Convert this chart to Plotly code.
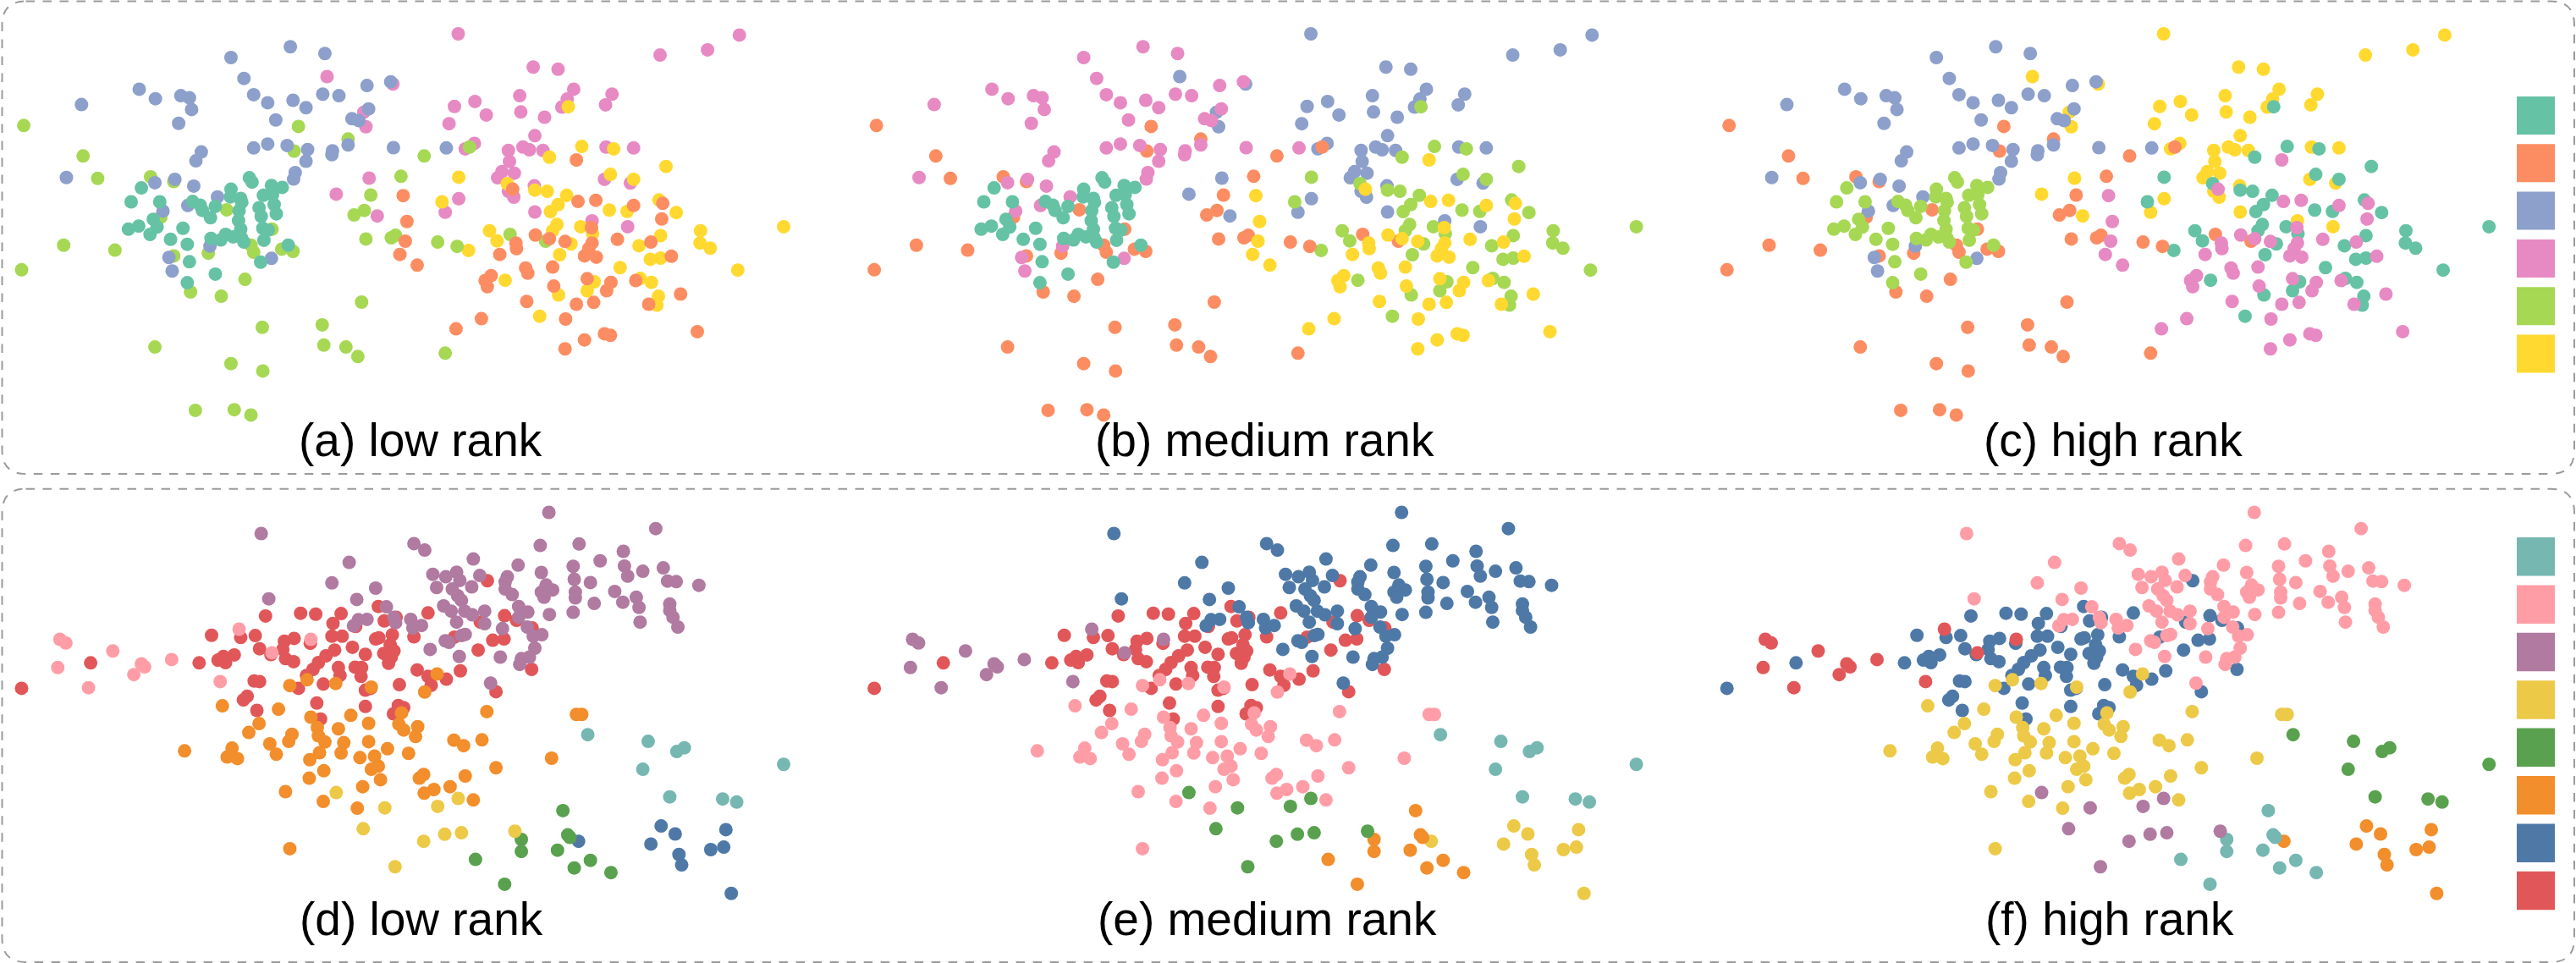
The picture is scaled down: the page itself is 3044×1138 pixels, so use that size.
import plotly.graph_objects as go

W, H = 3044, 1138

# ---- Data, top row (embedding coordinates) ----
top_teal = [(462,578),(467,592),(503,603),(523,609),(262,611),(428,615),(427,640),(488,635),(505,633),(446,645),(243,656),(296,656),(357,655),(371,667),(399,671),(448,658),(375,684),(443,685),(480,675),(508,665),(512,695),(484,703),(390,708),(442,717),(284,713),(291,738),(257,735),(238,745),(278,762),(339,742),(487,742),(497,748),(446,745),(447,772),(418,762),(432,770),(409,780),(391,775),(316,778),(347,794),(452,787),(489,781),(534,797),(351,851),(483,852),(399,891),(347,919)]
top_blue = [(538,152),(602,174),(428,187),(452,255),(258,290),(288,321),(335,311),(351,318),(355,356),(331,401),(151,340),(470,308),(496,334),(543,326),(567,350),(598,306),(628,311),(680,278),(724,266),(683,354),(652,386),(665,392),(511,390),(470,481),(496,468),(532,473),(570,486),(616,490),(615,503),(645,471),(729,480),(827,481),(373,494),(363,523),(567,524),(547,561),(544,582),(123,577),(287,594),(324,583),(359,605),(403,640),(348,668),(302,686),(389,800),(313,837),(319,881),(503,840)]
top_pink = [(849,110),(1370,114),(1311,162),(1223,179),(988,218),(1034,225),(606,249),(728,273),(1063,290),(1134,306),(963,311),(1051,322),(842,346),(880,330),(1122,341),(1041,348),(901,374),(965,364),(1009,381),(674,365),(678,412),(832,402),(991,441),(879,466),(862,484),(969,478),(981,487),(942,489),(1006,489),(1123,478),(1174,481),(944,525),(930,558),(953,563),(922,578),(1120,583),(1168,595),(684,579),(990,604),(623,631),(942,622),(952,641),(850,646),(991,689),(825,690),(699,702),(1097,718),(1163,737)]
top_green = [(44,408),(553,411),(645,452),(545,491),(154,507),(181,580),(279,575),(322,590),(743,573),(687,634),(675,684),(656,699),(420,682),(298,706),(504,745),(733,765),(725,773),(678,777),(118,797),(213,813),(811,787),(847,801),(945,762),(1011,784),(786,507),(870,478),(465,797),(470,820),(386,823),(322,832),(522,810),(543,817),(40,877),(454,908),(353,949),(410,963),(670,982),(597,1056),(486,1064),(600,1122),(641,1128),(663,1159),(287,1128),(825,1148),(428,1182),(487,1206),(362,1334),(434,1332),(465,1349)]
top_yellow = [(1053,347),(1078,476),(1137,484),(1018,511),(1234,541),(1131,567),(1174,583),(850,576),(940,597),(991,618),(1014,622),(1050,635),(819,656),(1221,650),(1034,665),(1020,688),(1129,683),(1162,687),(1253,691),(1032,730),(1076,737),(1024,750),(1098,760),(1298,750),(1224,766),(1452,737),(907,750),(921,783),(1297,790),(1316,807),(1058,793),(1184,799),(868,814),(1037,828),(1205,843),(1224,839),(1149,870),(1367,878),(1186,905),(1207,918),(936,911),(1101,916),(1088,945),(1035,959),(1220,963),(1217,992),(1000,1028)]
top_orange = [(1068,520),(950,615),(747,636),(1104,651),(1071,655),(1174,668),(1228,661),(1226,712),(754,720),(1096,740),(992,764),(1018,776),(1047,785),(956,790),(1097,790),(1144,778),(1206,787),(751,784),(957,808),(1091,808),(926,827),(741,827),(1083,832),(1105,836),(1244,833),(773,862),(974,871),(1024,868),(978,888),(910,896),(899,912),(903,932),(1088,906),(1026,930),(1132,918),(1178,912),(1124,945),(1261,956),(976,980),(1068,989),(1100,983),(1202,989),(892,1036),(845,1069),(1048,1037),(1120,1085),(1131,1090),(1292,1078),(1083,1105),(1047,1134)]

# ---- Data, bottom row ----
bot_teal = [(1089,823),(1201,845),(1268,866),(1254,878),(1191,936),(1452,920),(1241,1026),(1339,1033),(1365,1043)]
bot_red = [(40,672),(168,589),(369,589),(392,499),(404,580),(414,568),(418,588),(434,563),(446,506),(473,500),(481,543),(492,436),(502,562),(527,518),(545,509),(524,545),(529,575),(544,585),(557,427),(585,430),(632,428),(617,460),(615,502),(634,502),(575,525),(653,538),(620,547),(604,566),(590,588),(580,610),(568,630),(553,672),(599,658),(471,648),(481,650),(458,698),(451,710),(476,744),(587,720),(594,772),(627,604),(630,630),(658,603),(670,604),(669,633),(677,561),(677,678),(687,672),(696,511),(702,507),(727,497),(723,530),(711,558),(730,550),(725,570),(720,590),(712,452),(701,405),(734,440),(659,470),(793,426),(773,612),(793,633),(799,662),(827,642),(853,615),(740,660),(677,731),(738,728),(748,735),(729,755),(767,504),(886,547),(903,321),(890,456),(913,515),(934,511),(935,435),(957,450),(986,475),(985,610),(919,683),(842,505)]
bot_purple = [(1017,98),(1215,151),(484,167),(767,200),(787,221),(1001,206),(1073,201),(1155,225),(647,261),(877,250),(1112,256),(960,270),(1062,274),(1157,273),(1229,279),(1191,290),(1003,294),(802,300),(826,308),(846,293),(852,320),(889,304),(940,308),(1064,316),(1163,306),(615,328),(696,345),(809,343),(838,348),(874,341),(936,325),(936,348),(1094,327),(1237,322),(1253,324),(1295,336),(1012,335),(1024,351),(1003,358),(1008,375),(949,366),(1066,358),(1066,377),(1139,356),(1179,375),(498,380),(661,382),(848,370),(855,385),(1154,391),(1101,395),(1241,397),(1184,408),(716,406),(822,403),(961,405),(836,420),(861,420),(875,432),(898,420),(978,423),(961,440),(1018,431),(1062,424),(1241,418),(1247,440),(680,447),(730,440),(733,458),(664,448),(655,468),(761,447),(765,475),(781,467),(846,456),(898,461),(931,477),(977,472),(1186,456),(1256,472),(1004,497),(988,502),(862,496),(855,500),(832,522),(825,517),(797,545),(851,568),(927,570),(991,541),(981,570),(966,575),(963,594),(909,655)]
bot_pink = [(111,512),(122,524),(209,550),(107,604),(262,592),(268,602),(318,578),(248,627),(164,670),(408,650),(443,479),(576,512),(504,556)]
bot_orange = [(810,625),(569,644),(622,656),(537,663),(688,668),(787,684),(412,729),(516,740),(902,748),(1068,757),(1078,757),(744,752),(650,760),(576,766),(683,786),(480,787),(739,789),(627,804),(461,816),(588,800),(774,797),(748,808),(590,827),(541,822),(770,829),(535,845),(602,847),(637,849),(683,846),(841,841),(893,840),(500,853),(859,859),(430,867),(718,869),(592,882),(632,883),(757,884),(342,876),(512,887),(421,896),(440,901),(694,893),(667,898),(574,905),(1022,900),(701,926),(688,936),(600,941),(919,931),(573,965),(785,953),(777,965),(862,958),(705,970),(672,993),(834,993),(804,1002),(786,1014),(529,1009),(877,1036),(599,1041),(662,1063),(537,1195)]
bot_blue = [(1225,1121),(1251,1147),(1345,1133),(1072,1171),(1206,1180),(1341,1190),(1317,1198),(1258,1214),(1263,1248),(1355,1341)]
bot_green = [(1043,1071),(966,1165),(1052,1150),(1056,1158),(966,1204),(1033,1200),(881,1230),(1094,1233),(1064,1258),(1132,1273),(935,1311)]
bot_yellow = [(623,1012),(849,1031),(811,1057),(713,1062),(673,1130),(824,1148),(855,1143),(954,1138),(785,1171),(732,1254)]

# Palettes and legends
set2 = {"teal":"#66c2a5","orange":"#fc8d62","blue":"#8da0cb","pink":"#e78ac3","green":"#a6d854","yellow":"#ffd92f"}
tab = {"teal":"#76b7b2","pink":"#ff9da7","purple":"#b07aa1","yellow":"#edc948","green":"#59a14f","orange":"#f28e2b","blue":"#4e79a7","red":"#e15759"}
top_legend = ["teal","orange","blue","pink","green","yellow"]
bot_legend = ["teal","pink","purple","yellow","green","orange","blue","red"]

# Cluster -> colour per panel, in drawing order
top_clusters = [
    (top_pink,   ["pink","blue","yellow"]),
    (top_yellow, ["yellow","green","teal"]),
    (top_green,  ["green","orange","orange"]),
    (top_orange, ["orange","yellow","pink"]),
    (top_blue,   ["blue","pink","blue"]),
    (top_teal,   ["teal","teal","green"]),
]
bot_clusters = [
    (bot_teal,   ["teal","teal","green"]),
    (bot_red,    ["red","red","blue"]),
    (bot_purple, ["purple","blue","pink"]),
    (bot_pink,   ["pink","purple","red"]),
    (bot_orange, ["orange","pink","yellow"]),
    (bot_blue,   ["blue","yellow","orange"]),
    (bot_green,  ["green","orange","teal"]),
    (bot_yellow, ["yellow","green","purple"]),
]
top_titles = ["(a) low rank","(b) medium rank","(c) high rank"]
bot_titles = ["(d) low rank","(e) medium rank","(f) high rank"]
top_title_x = [496.5,1494.5,2496.5]
bot_title_x = [498,1497,2492.6]

STEP = 1007.6
fig = go.Figure()
layout = {}
annotations, shapes = [], []

def add_row(row, clusters, palette, y_span, titles, title_x, title_y):
    for k in range(3):
        idx = row*3 + k + 1
        name = "" if idx == 1 else str(idx)
        layout[f"xaxis{name}"] = dict(domain=[k*STEP/W, (k*STEP+1000)/W], range=[0,1568], visible=False, fixedrange=True)
        layout[f"yaxis{name}"] = dict(domain=[1-y_span[1]/H, 1-y_span[0]/H], range=[1568,0], visible=False, fixedrange=True)
        for pts, cols in clusters:
            fig.add_trace(go.Scatter(
                x=[p[0] for p in pts], y=[p[1] for p in pts], mode="markers",
                xaxis=f"x{name}", yaxis=f"y{name}", showlegend=False, hoverinfo="skip", cliponaxis=False,
                marker=dict(size=16, color=palette[cols[k]], line=dict(width=0))))
        annotations.append(dict(text=titles[k], x=title_x[k]/W, y=1-title_y/H, xref="paper", yref="paper",
                                xanchor="center", yanchor="middle", showarrow=False,
                                font=dict(family="Liberation Sans", size=55, color="#000")))

add_row(0, top_clusters, set2, (0,570), top_titles, top_title_x, 520)
add_row(1, bot_clusters, tab, (570,1138), bot_titles, bot_title_x, 1086)

def frame(x0, y0, x1, y1, r=28):
    pts = [("M",x0+r,y0),("L",x1-r,y0),("Q",x1,y0,x1,y0+r),("L",x1,y1-r),("Q",x1,y1,x1-r,y1),("L",x0+r,y1),("Q",x0,y1,x0,y1-r),("L",x0,y0+r),("Q",x0,y0,x0+r,y0)]
    s = ""
    for p in pts:
        s += p[0] + " " + " ".join(f"{v:.6f}" for i in range(1,len(p),2) for v in ((p[i]/W),(1-p[i+1]/H))) + " "
    return dict(type="path", path=s.strip(), xref="paper", yref="paper",
                line=dict(color="#9b9b9b", width=2, dash="10.5px,9.5px"))

shapes.append(frame(2.5,1.5,3042,560))
shapes.append(frame(2.5,577.7,3042,1137))

# Legend swatches
SW_X = (2974,3019)
for i, c in enumerate(top_legend):
    y0 = 114 + i*56.3
    shapes.append(dict(type="rect", xref="paper", yref="paper", x0=SW_X[0]/W, x1=SW_X[1]/W,
                       y0=1-y0/H, y1=1-(y0+45)/H, fillcolor=set2[c], line=dict(width=0)))
for i, c in enumerate(bot_legend):
    y0 = 635 + i*56.4
    shapes.append(dict(type="rect", xref="paper", yref="paper", x0=SW_X[0]/W, x1=SW_X[1]/W,
                       y0=1-y0/H, y1=1-(y0+45.5)/H, fillcolor=tab[c], line=dict(width=0)))

fig.update_layout(width=W, height=H, margin=dict(l=0,r=0,t=0,b=0), autosize=False,
                  paper_bgcolor="white", plot_bgcolor="white",
                  annotations=annotations, shapes=shapes, **layout)
fig.write_html("out.html", post_script="document.body.style.margin='0';", config={"displayModeBar":False})
